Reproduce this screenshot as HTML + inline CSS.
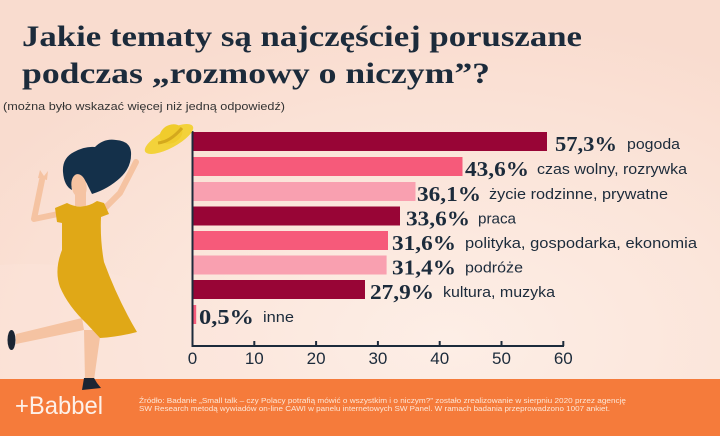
<!DOCTYPE html>
<html>
<head>
<meta charset="utf-8">
<style>
html,body{margin:0;padding:0;width:720px;height:436px;overflow:hidden;}
body{background:#fae0d4;position:relative;}
svg{display:block;position:absolute;left:0;top:0;}
</style>
</head>
<body>
<svg width="720" height="436" viewBox="0 0 720 436" xmlns="http://www.w3.org/2000/svg">
  <defs>
    <radialGradient id="bg" cx="0.62" cy="0.78" r="0.75">
      <stop offset="0" stop-color="#fdeee6"/>
      <stop offset="0.55" stop-color="#fbe5da"/>
      <stop offset="1" stop-color="#f9dccf"/>
    </radialGradient>
  </defs>
  <rect x="0" y="0" width="720" height="436" fill="url(#bg)"/>
  <path d="M0,265 Q120,255 250,330 L250,379 L0,379 Z" fill="#fce6dc" opacity="0.35"/>

  <!-- Title -->
  <text x="22" y="46" font-family="'Liberation Serif', serif" font-weight="bold" font-size="30" fill="#1c2b3b" textLength="560" lengthAdjust="spacingAndGlyphs">Jakie tematy są najczęściej poruszane</text>
  <text x="22" y="83" font-family="'Liberation Serif', serif" font-weight="bold" font-size="30" fill="#1c2b3b" textLength="468" lengthAdjust="spacingAndGlyphs">podczas „rozmowy o niczym”?</text>
  <text x="3" y="110" font-family="'Liberation Sans', sans-serif" font-size="11" fill="#333" textLength="282" lengthAdjust="spacingAndGlyphs">(można było wskazać więcej niż jedną odpowiedź)</text>

  <!-- Bars -->
  <g>
    <rect x="193" y="132" width="354" height="19" fill="#980536"/>
    <rect x="193" y="157" width="269.5" height="19" fill="#f65a7a"/>
    <rect x="193" y="182" width="222.5" height="19" fill="#f9a0b0"/>
    <rect x="193" y="206.5" width="207" height="19" fill="#980536"/>
    <rect x="193" y="231" width="195" height="19" fill="#f65a7a"/>
    <rect x="193" y="255.5" width="193.6" height="19" fill="#f9a0b0"/>
    <rect x="193" y="280" width="172" height="19" fill="#980536"/>
    <rect x="193" y="305" width="3.2" height="19" fill="#f65a7a"/>
  </g>

  <!-- Value labels -->
  <g font-family="'Liberation Serif', serif" font-weight="bold" font-size="21" fill="#1c2b3b">
    <text x="555" y="151" textLength="62" lengthAdjust="spacingAndGlyphs">57,3%</text>
    <text x="465" y="176" textLength="64" lengthAdjust="spacingAndGlyphs">43,6%</text>
    <text x="417" y="201" textLength="64" lengthAdjust="spacingAndGlyphs">36,1%</text>
    <text x="406" y="225.5" textLength="64" lengthAdjust="spacingAndGlyphs">33,6%</text>
    <text x="392" y="250" textLength="64" lengthAdjust="spacingAndGlyphs">31,6%</text>
    <text x="392" y="274.5" textLength="64" lengthAdjust="spacingAndGlyphs">31,4%</text>
    <text x="370" y="299" textLength="64" lengthAdjust="spacingAndGlyphs">27,9%</text>
    <text x="199" y="324" textLength="55" lengthAdjust="spacingAndGlyphs">0,5%</text>
  </g>

  <!-- Category labels -->
  <g font-family="'Liberation Sans', sans-serif" font-size="15" fill="#1c2b3b">
    <text x="627" y="149" textLength="53" lengthAdjust="spacingAndGlyphs">pogoda</text>
    <text x="537" y="174" textLength="150" lengthAdjust="spacingAndGlyphs">czas wolny, rozrywka</text>
    <text x="489" y="199" textLength="179" lengthAdjust="spacingAndGlyphs">życie rodzinne, prywatne</text>
    <text x="478" y="223.5" textLength="38" lengthAdjust="spacingAndGlyphs">praca</text>
    <text x="465" y="248" textLength="232" lengthAdjust="spacingAndGlyphs">polityka, gospodarka, ekonomia</text>
    <text x="465" y="272.5" textLength="58" lengthAdjust="spacingAndGlyphs">podróże</text>
    <text x="443" y="297" textLength="112" lengthAdjust="spacingAndGlyphs">kultura, muzyka</text>
    <text x="263" y="322" textLength="31" lengthAdjust="spacingAndGlyphs">inne</text>
  </g>

  <!-- Axes -->
  <g stroke="#1c2b3b" stroke-width="2" fill="none">
    <line x1="192.5" y1="131" x2="192.5" y2="347"/>
    <line x1="191.5" y1="346" x2="564" y2="346"/>
    <line x1="254.3" y1="341" x2="254.3" y2="346"/>
    <line x1="316.1" y1="341" x2="316.1" y2="346"/>
    <line x1="377.9" y1="341" x2="377.9" y2="346"/>
    <line x1="439.7" y1="341" x2="439.7" y2="346"/>
    <line x1="501.5" y1="341" x2="501.5" y2="346"/>
    <line x1="563.3" y1="341" x2="563.3" y2="346"/>
  </g>
  <g font-family="'Liberation Sans', sans-serif" font-size="17" fill="#1c2b3b" text-anchor="middle">
    <text x="192.5" y="364">0</text>
    <text x="254.3" y="364">10</text>
    <text x="316.1" y="364">20</text>
    <text x="377.9" y="364">30</text>
    <text x="439.7" y="364">40</text>
    <text x="501.5" y="364">50</text>
    <text x="563.3" y="364">60</text>
  </g>

  <!-- Woman figure -->
  <g>
    <path d="M82,318 L16,334 L16,344 L84,330 Z" fill="#f5c3a2"/>
    <ellipse cx="11.5" cy="340" rx="4" ry="10" fill="#1b2533"/>
    <path d="M84,330 L101,330 L94,380 L85,380 Z" fill="#f5c3a2"/>
    <polyline points="58,214 34,219 42,180" fill="none" stroke="#f5c3a2" stroke-width="6" stroke-linecap="round" stroke-linejoin="round"/>
    <path d="M38,178 L40,170 L44,176 L48,171 L47,180 Z" fill="#f5c3a2"/>
    <polyline points="103,210 120,193 136,162" fill="none" stroke="#f5c3a2" stroke-width="6" stroke-linecap="round" stroke-linejoin="round"/>
    <rect x="75" y="192" width="11" height="14" fill="#f5c3a2"/>
    <path d="M63,172 Q62,158 74,152 Q85,146 95,147 Q104,138 116,140 Q130,141 131,152 Q132,167 120,178 Q108,189 92,194 L88,186 Q84,176 76,176 Q70,180 72,190 Q64,186 63,172 Z" fill="#14304a"/>
    <ellipse cx="79" cy="186" rx="7.5" ry="12" transform="rotate(-10 79 186)" fill="#f5c3a2"/>
    <path d="M55,208 L67,203 Q82,211 97,201 L104,203 L109,214 L101,217 Q100,240 104,262 Q118,300 137,332 Q118,337 100,338 L87,324 Q68,306 60,287 Q54,270 62,250 L62,223 L57,222 Z" fill="#e0a817"/>
    <ellipse cx="169" cy="139" rx="27" ry="9" transform="rotate(-28 169 139)" fill="#f3d23a"/>
    <ellipse cx="171" cy="134" rx="12" ry="9" transform="rotate(-28 171 134)" fill="#f0cc2c"/>
    <path d="M158,143 Q170,142 182,128" fill="none" stroke="#d4a91d" stroke-width="3"/>
  </g>

  <!-- Footer -->
  <rect x="0" y="379" width="720" height="57" fill="#f57b3b"/>
  <path d="M84,378 L94,378 L97,383 L101,388 L82,390 Z" fill="#1b2533"/>
  <text x="15" y="414" font-family="'Liberation Sans', sans-serif" font-size="25" fill="#fdf0e8" textLength="88" lengthAdjust="spacingAndGlyphs">+Babbel</text>
  <g font-family="'Liberation Sans', sans-serif" font-size="7.6" fill="#fde6d6">
    <text x="139" y="403" textLength="487" lengthAdjust="spacingAndGlyphs">Źródło: Badanie „Small talk – czy Polacy potrafią mówić o wszystkim i o niczym?” zostało zrealizowanie w sierpniu 2020 przez agencję</text>
    <text x="139" y="411" textLength="471" lengthAdjust="spacingAndGlyphs">SW Research metodą wywiadów on-line CAWI w panelu internetowych SW Panel. W ramach badania przeprowadzono 1007 ankiet.</text>
  </g>
</svg>
</body>
</html>
